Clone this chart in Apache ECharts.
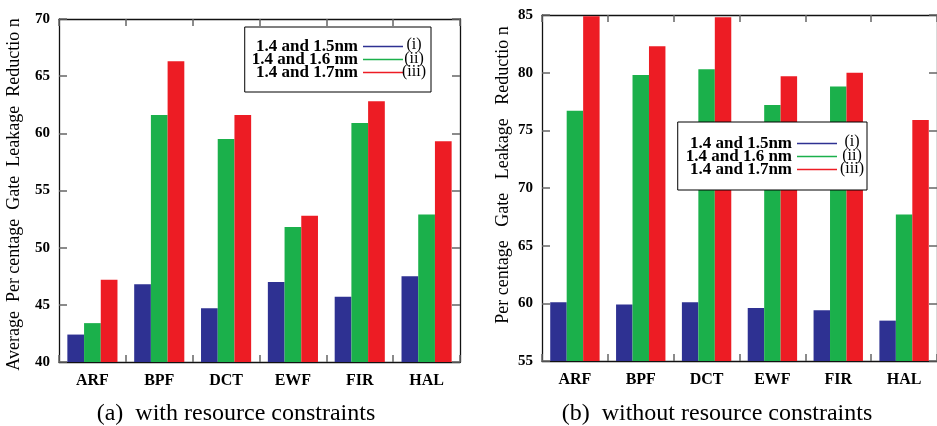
<!DOCTYPE html>
<html>
<head>
<meta charset="utf-8">
<title>Gate leakage reduction</title>
<script src="https://cdn.jsdelivr.net/npm/echarts@6/dist/echarts.min.js"></script>
<style>
  html, body { margin: 0; padding: 0; background: #fff; }
  #main { width: 937px; height: 426px; }
</style>
</head>
<body>
<div id="main"></div>
<script>
var categories = ['ARF', 'BPF', 'DCT', 'EWF', 'FIR', 'HAL'];
var seriesNames = ['1.4 and 1.5nm', '1.4 and 1.6 nm', '1.4 and 1.7nm'];
var romanLabels = ['(i)', '(ii)', '(iii)'];

// (a) with resource constraints
var withBlue = [42.4, 46.8, 44.7, 47.0, 45.7, 47.5];
var withGreen = [43.4, 61.6, 59.5, 51.8, 60.9, 52.9];
var withRed = [47.2, 66.3, 61.6, 52.8, 62.8, 59.3];
var withTicks = [40, 45, 50, 55, 60, 65, 70];

// (b) without resource constraints
var withoutBlue = [60.1, 59.9, 60.1, 59.6, 59.4, 58.5];
var withoutGreen = [76.7, 79.8, 80.3, 77.2, 78.8, 67.7];
var withoutRed = [84.9, 82.3, 84.8, 79.7, 80.0, 75.9];
var withoutTicks = [55, 60, 65, 70, 75, 80, 85];

var colors = ['#2e3192', '#1bb04b', '#ed1c24'];
var serif = '"Liberation Serif", "Times New Roman", serif';

var myChart = echarts.init(document.getElementById('main'));

function catAxis(grid, pos) {
  return {
    type: 'category', gridIndex: grid, position: pos, data: categories,
    axisLine: { show: true, lineStyle: { color: '#111', width: 1.3 } },
    axisTick: { show: true, inside: true, length: 7, lineStyle: { color: '#666', width: 1.5 } },
    axisLabel: {
      show: pos === 'bottom', margin: 11, color: '#000',
      fontFamily: serif, fontSize: 16, fontWeight: 'bold'
    }
  };
}

function valAxis(grid, pos, ticks, name, gap, namePad) {
  return {
    type: 'value', gridIndex: grid, position: pos,
    min: ticks[0], max: ticks[ticks.length - 1], interval: ticks[1] - ticks[0],
    name: pos === 'left' ? name : '', nameLocation: 'middle', nameGap: gap,
    nameTextStyle: { fontFamily: serif, fontSize: 18, color: '#000', padding: namePad || 0 },
    splitLine: { show: false },
    axisLine: { show: true, lineStyle: { color: '#111', width: 1.3 } },
    axisTick: { show: true, inside: true, length: 8, lineStyle: { color: '#666', width: 1.5 } },
    axisLabel: {
      show: pos === 'left', margin: 9, color: '#000',
      fontFamily: serif, fontSize: 15, fontWeight: 'bold'
    }
  };
}

function makeLegend(right, top, padding) {
  return {
    data: seriesNames, orient: 'vertical', align: 'right',
    right: right, top: top, padding: padding, itemGap: -4,
    icon: 'rect', itemWidth: 40, itemHeight: 1.5,
    backgroundColor: '#fff', borderColor: '#000', borderWidth: 1,
    selectedMode: false, z: 5,
    textStyle: { fontFamily: serif, fontSize: 17, fontWeight: 'bold', color: '#000', lineHeight: 14 }
  };
}

function makeBars(grid, values) {
  return values.map(function (v, i) {
    return {
      name: seriesNames[i], type: 'bar', xAxisIndex: grid * 2, yAxisIndex: grid * 2,
      data: v, barGap: '0%', barCategoryGap: '25%',
      itemStyle: { color: colors[i] }
    };
  });
}

function romanText(x, y0) {
  return romanLabels.map(function (t, i) {
    return {
      type: 'text', x: x, y: y0 + i * 13.6, z: 10,
      style: { text: t, fontFamily: serif, fontSize: 16, fill: '#000', align: 'center', verticalAlign: 'middle' }
    };
  });
}

var option = {
  animation: false,
  grid: [
    { left: 59, top: 19, right: 477, bottom: 64 },
    { left: 542, top: 15, right: -8, bottom: 65 }
  ],
  xAxis: [
    catAxis(0, 'bottom'), catAxis(0, 'top'),
    catAxis(1, 'bottom'), catAxis(1, 'top')
  ],
  yAxis: [
    valAxis(0, 'left', withTicks, 'Average  Per centage  Gate  Leakage  Reductio n', 36, [0, 8, 0, 0]),
    valAxis(0, 'right', withTicks, '', 0),
    valAxis(1, 'left', withoutTicks, 'Per centage   Gate   Leakage   Reductio n', 30, [0, 0, 0, 26]),
    valAxis(1, 'right', withoutTicks, '', 0)
  ],
  legend: [
    makeLegend(506, 27, [11, 28, 11, 7]),
    makeLegend(70, 122, [13, 30, 12, 8])
  ],
  series: makeBars(0, [withBlue, withGreen, withRed])
    .concat(makeBars(1, [withoutBlue, withoutGreen, withoutRed])),
  graphic: romanText(414, 45).concat(romanText(852, 142)).concat([
    {
      type: 'text', x: 236, y: 414,
      style: { text: '(a)  with resource constraints', fontFamily: serif, fontSize: 24, fill: '#000', align: 'center', verticalAlign: 'middle' }
    },
    {
      type: 'text', x: 717, y: 414,
      style: { text: '(b)  without resource constraints', fontFamily: serif, fontSize: 24, fill: '#000', align: 'center', verticalAlign: 'middle' }
    }
  ])
};

myChart.setOption(option);
</script>
</body>
</html>
